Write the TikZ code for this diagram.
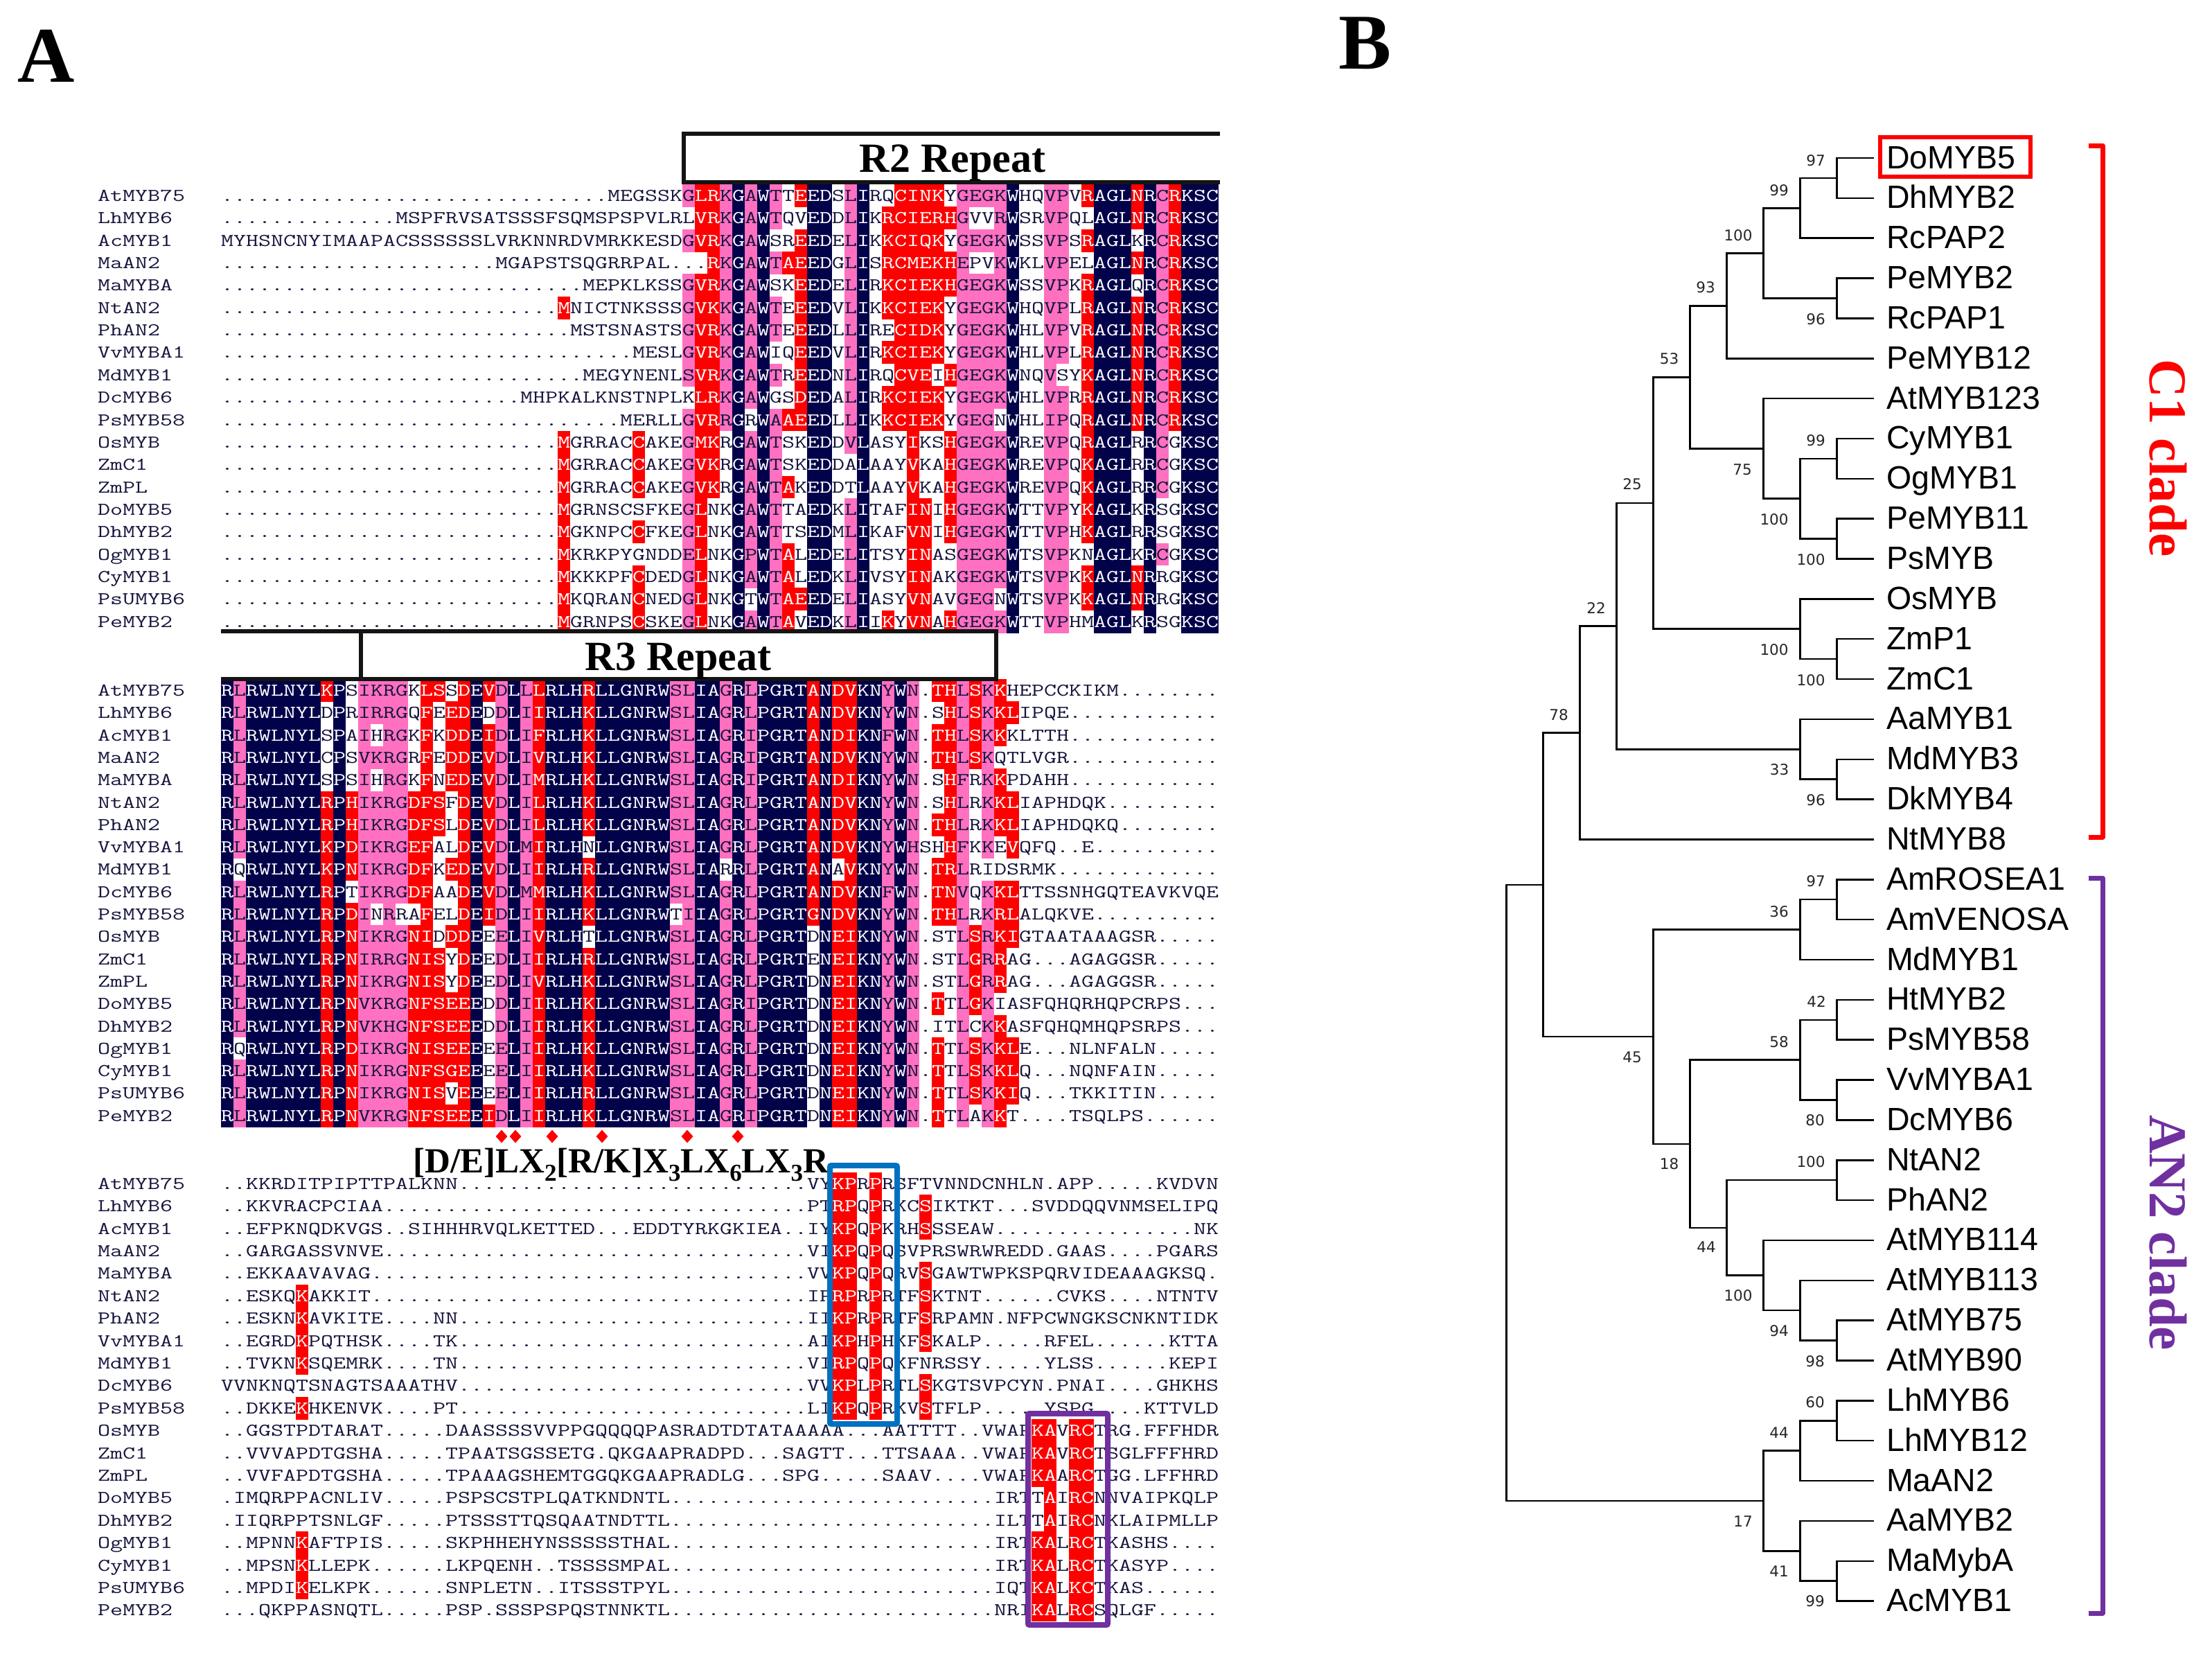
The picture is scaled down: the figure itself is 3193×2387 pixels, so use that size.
\documentclass[tikz,border=0pt]{standalone}
\usepackage{fontspec}
\setmainfont{Liberation Serif}
\setsansfont{Liberation Sans}
\newfontfamily\alnfont[FakeStretch=1.3443]{Latin Modern Mono}
\newfontfamily\bootfont{DejaVu Sans}
\usetikzlibrary{calc,shapes.geometric}
\definecolor{aln}{HTML}{02024A}
\definecolor{alr}{HTML}{FF0000}
\definecolor{alp}{HTML}{FF70C0}
\definecolor{altxt}{HTML}{14143C}
\definecolor{boxblue}{HTML}{0070C0}
\definecolor{boxpurple}{HTML}{7030A0}
\tikzset{
  alntext/.style={anchor=base west,inner sep=0pt,font=\alnfont\fontsize{26}{26}\selectfont,text=altxt},
  treeline/.style={line width=2.5pt,line cap=rect,black},
  leaf/.style={anchor=base west,inner sep=0pt,font=\sffamily\fontsize{46.5}{46.5}\selectfont,text=black},
  bootlab/.style={anchor=center,inner sep=0pt,font=\bootfont\fontsize{21.5}{21.5}\selectfont,text=black!85},
  repeatbox/.style={line width=6.5pt,black!92},
  repeatlab/.style={anchor=base,inner sep=0pt,font=\bfseries\fontsize{60}{60}\selectfont},
  motif/.style={diamond,fill=red,minimum width=17pt,minimum height=19pt,inner sep=0pt,aspect=0.9},
  cladelab/.style={anchor=base,rotate=-90,inner sep=0pt,font=\bfseries\fontsize{77}{77}\selectfont},
  panel/.style={anchor=base west,inner sep=0pt,font=\bfseries\fontsize{114}{114}\selectfont},
}
\newcount\alc \newcount\alst \newcount\alrowi
\def\alend{}
\def\alflush{\if\alprev w\else
  \fill[fill=al\alprev] (319+18*\the\alst,\altop) rectangle (319+18*\the\alc,\altop+\alblockdy+0.5);
  \fi}
\def\alscan#1{%
  \ifx#1\alend \alflush \else
    \if#1\alprev\else \alflush \def\alprev{#1}\alst=\alc \fi
    \advance\alc by 1
    \expandafter\alscan
  \fi}
\def\altx#1#2\relax#3#4\relax{%
  \ifx#1\alend\else
    \if#3w{\color{altxt}#1}\else\if#3p{\color{altxt}#1}\else{\color{white}#1}\fi\fi
    \altx#2\relax#4\relax
  \fi}
\newcommand\alblock[3]{\def\alblockid{#1}\def\alblocktop{#2}\def\alblockdy{#3}\alrowi=0 }
\newcommand\alnrow[3]{%
  \pgfmathsetmacro\altop{\alblocktop+\alblockdy*\the\alrowi}%
  \pgfmathsetmacro\albase{\altop+24.5}%
  \edef\almask{#3}\alc=0 \alst=0 \def\alprev{w}%
  \expandafter\alscan\almask\alend
  \edef\alcall{\noexpand\altx #2\noexpand\alend\relax #3\noexpand\alend\relax}%
  \node[alntext] (\alblockid n\the\alrowi) at (141,\albase) {#1};
  \node[alntext] (\alblockid s\the\alrowi) at (319,\albase) {\alcall};
  \advance\alrowi by 1 }
\def\Dx{..........}
\def\Wx{wwwwwwwwww}
\def\mpw{\Wx\Wx\Wx wwwwwww}
\def\mpm{\Wx\Wx wwwwwwwrww wwwwwww}
\def\mpc{\Wx\Wx wwwwwwwrww wwwrwww}
\def\qk{wwwwwwrwww}
\def\qs{rwrwwwrwww}
\def\qn{rwrwwwwwww}
\def\qbl#1#2{#1\Wx\Wx\Wx wwwwwwwwwr #2\Wx\Wx}
\def\qpu#1#2{#1\Wx\Wx\Wx\Wx\Wx #2\Wx}
\newcommand\leafn[3]{%
  \node[leaf] (L#1) at (2723,{228+57.85*#2+15}) {#3};
  \coordinate (t#1) at (2704,{228+57.85*#2});}
\newcommand\clade[4]{%
  \path let \p1=(#3),\p2=(#4) in coordinate (#1) at (#2pt,{0.5*(\y1+\y2)});
  \draw[treeline] (#3) -| (#1) (#4) -| (#1);}
\newcommand\boot[4]{\node[bootlab] (#1) at (#2,#3) {#4};}
\newcommand\subs[1]{\raisebox{-12pt}{\fontsize{35}{35}\selectfont #1}}
\begin{document}
\begin{tikzpicture}[x=1pt,y=-1pt]
\useasboundingbox (0,0) rectangle (3193,2387);
\fill[white] (0,0) rectangle (3193,2387);
\node[panel] (panelA) at (25,119) {A};
\node[panel] (panelB) at (1932,100) {B};

% ---------- block 1
\alblock{a}{266}{32.35}
\alnrow{AtMYB75}{\Dx\Dx\Dx.MEGSSK GLRKGAWTTE EDSLIRQCIN KYGEGKWHQV PVRAGLNRCR KSC}{\mpw prrpnpnpwr nnwpnwwrrr rwppppnwwp pwrnnnrnpr nnn}
\alnrow{LhMYB6}{\Dx....MSPFRVSATSSSFSQMSPSPVLR LVRKGAWTQV EDDLIKRCIE RHGVVRWSRV PQLAGLNRCR KSC}{\mpw wrrpnpnpww nnwpnwrrrr rrpwwpnwwp pwwnnnrnpr nnn}
\alnrow{AcMYB1}{MYHSNCNYIMAAPACSSSSSSLVRKNNRDVMRKKESD GVRKGAWSRE EDELIKKCIQ KYGEGKWSSV PSRAGLKRCR KSC}{\mpw prrpnpnwwr nnwpnwrrrr rwppppnwwp pwrnnnwnpr nnn}
\alnrow{MaAN2}{\Dx\Dx..MGAPSTSQGRRPAL. ..RKGAWTAE EDGLISRCME KHEPVKWKLV PELAGLNRCR KSC}{\mpw wwrpnpnprr nnwpnwrrrr rrpwwpnwwp pwwnnnrnpr nnn}
\alnrow{MaMYBA}{\Dx\Dx.........MEPKLKSS GVRKGAWSKE EDELIRKCIE KHGEGKWSSV PKRAGLQRCR KSC}{\mpw prrpnpnwwr nnwpnwrrrr rrppppnwwp pwrnnnwnpr nnn}
\alnrow{NtAN2}{\Dx\Dx.......MNICTNKSSS GVKKGAWTEE EDVLIKKCIE KYGEGKWHQV PLRAGLNRCR KSC}{\mpm prrpnpnpwr nnwpnwrrrr rwppppnwwp pwrnnnrnpr nnn}
\alnrow{PhAN2}{\Dx\Dx........MSTSNASTS GVRKGAWTEE EDLLIRECID KYGEGKWHLV PVRAGLNRCR KSC}{\mpw prrpnpnpwr nnwpnwwrrr rwppppnwwp pwrnnnrnpr nnn}
\alnrow{VvMYBA1}{\Dx\Dx\Dx...MESL GVRKGAWIQE EDVLIRKCIE KYGEGKWHLV PLRAGLNRCR KSC}{\mpw prrpnpnwwr nnwpnwrrrr rwppppnwwp pwrnnnrnpr nnn}
\alnrow{MdMYB1}{\Dx\Dx.........MEGYNENL SVRKGAWTRE EDNLIRQCVE IHGEGKWNQV SYKAGLNRCR KSC}{\mpw prrpnpnpwr nnwpnwwrrr wrppppnwwp wwrnnnrnpr nnn}
\alnrow{DcMYB6}{\Dx\Dx....MHPKALKNSTNPL KLRKGAWGSD EDALIRKCIE KYGEGKWHLV PRRAGLNRCR KSC}{\mpw wrrpnpnwwr nnwpnwrrrr rwppppnwwp pwrnnnrnpr nnn}
\alnrow{PsMYB58}{\Dx\Dx\Dx..MERLL GVRRGRWAAE EDLLIKKCIE KYGEGNWHLI PQRAGLNRCR KSC}{\mpw prrpnwnprr nnwpnwrrrr rwpppwnwwp pwrnnnrnpr nnn}
\alnrow{OsMYB}{\Dx\Dx.......MGRRACCAKE GMKRGAWTSK EDDVLASYIK SHGEGKWREV PQRAGLRRCG KSC}{\mpc prrwnpnpww nnwpnwwwrw wrppppnwwp pwrnnnwnpw nnn}
\alnrow{ZmC1}{\Dx\Dx.......MGRRACCAKE GVKRGAWTSK EDDALAAYVK AHGEGKWREV PQKAGLRRCG KSC}{\mpc prrwnpnpww nnwwnwwwrw wrppppnwwp pwrnnnwnpw nnn}
\alnrow{ZmPL}{\Dx\Dx.......MGRRACCAKE GVKRGAWTAK EDDTLAAYVK AHGEGKWREV PQKAGLRRCG KSC}{\mpc prrwnpnprw nnwwnwwwrw wrppppnwwp pwrnnnwnpw nnn}
\alnrow{DoMYB5}{\Dx\Dx.......MGRNSCSFKE GLNKGAWTTA EDKLITAFIN IHGEGKWTTV PYKAGLKRSG KSC}{\mpm prwwnpnpww nnwpnwwwrr wrppppnwwp pwrnnnwnww nnn}
\alnrow{DhMYB2}{\Dx\Dx.......MGKNPCCFKE GLNKGAWTTS EDMLIKAFVN IHGEGKWTTV PHKAGLRRSG KSC}{\mpc prwwnpnpww nnwpnwwwrr wrppppnwwp pwrnnnwnww nnn}
\alnrow{OgMYB1}{\Dx\Dx.......MKRKPYGNDD ELNKGPWTAL EDELITSYIN ASGEGKWTSV PKNAGLKRCG KSC}{\mpm prwwnpnprw nnwpnwwwrr wwppppnwwp pwwnnnwnpw nnn}
\alnrow{CyMYB1}{\Dx\Dx.......MKKKPFCDED GLNKGAWTAL EDKLIVSYIN AKGEGKWTSV PKKAGLNRRG KSC}{\mpc prwwnpnprw nnwpnwwwrr wwppppnwwp pwrnnnrnww nnn}
\alnrow{PsUMYB6}{\Dx\Dx.......MKQRANCNED GLNKGTWTAE EDELIASYVN AVGEGNWTSV PKKAGLNRRG KSC}{\mpc prwwnwnprr nnwpnwwwrr wwpppwnwwp pwrnnnrnww nnn}
\alnrow{PeMYB2}{\Dx\Dx.......MGRNPSCSKE GLNKGAWTAV EDKLIIKYVN AHGEGKWTTV PHMAGLKRSG KSC}{\mpc prwwnpnprw nnwpnwrwrr wrppppnwwp pwwnnnwnww nnn}

% ---------- block 2
\alblock{b}{980}{32.3}
\alnrow{AtMYB75}{RLRWLNYLKP SIKRGKLSSD EVDLLLRLHR LLGNRWSLIA GRLPGRTAND VKNYWN.THL SKKHEPCCKI KM........}{npnnnnnnrn wppppwrrwr nrpnprnnnr nnnnnnppnn pnpnnnnrnr rnnpnpwrrp rprwwwwwww \Wx}
\alnrow{LhMYB6}{RLRWLNYLDP RIRRGQFEED EDDLIIRLHK LLGNRWSLIA GRLPGRTAND VKNYWN.SHL SKKLIPQE.. \Dx}{npnnnnnnwn wppppwrwrr nwpnprnnnr nnnnnnppnn pnpnnnnrnr rnnpnpwwrp rprrwwwwww \Wx}
\alnrow{AcMYB1}{RLRWLNYLSP AIHRGKFKDD EIDLIFRLHK LLGNRWSLIA GRIPGRTAND IKNFWN.THL SKKKLTTH.. \Dx}{npnnnnnnwn wpwppwrwrr nrpnprnnnr nnnnnnppnn pnpnnnnrnr rnnpnpwrrp rprwwwwwww \Wx}
\alnrow{MaAN2}{RLRWLNYLCP SVKRGRFEDD EVDLIVRLHK LLGNRWSLIA GRIPGRTAND VKNYWN.THL SKQTLVGR.. \Dx}{npnnnnnnwn wppppwrwrr nrpnprnnnr nnnnnnppnn pnpnnnnrnr rnnpnpwrrp rpwwwwwwww \Wx}
\alnrow{MaMYBA}{RLRWLNYLSP SIHRGKFNED EVDLIMRLHK LLGNRWSLIA GRIPGRTAND IKNYWN.SHF RKKPDAHH.. \Dx}{npnnnnnnwn wpwppwrwrr nrpnprnnnr nnnnnnppnn pnpnnnnrnr rnnpnpwwrp wprwwwwwww \Wx}
\alnrow{NtAN2}{RLRWLNYLRP HIKRGDFSFD EVDLILRLHK LLGNRWSLIA GRLPGRTAND VKNYWN.SHL RKKLIAPHDQ K.........}{npnnnnnnrn rpppprrrwr nrpnprnnnr nnnnnnppnn pnpnnnnrnr rnnpnpwwrp wprrwwwwww \Wx}
\alnrow{PhAN2}{RLRWLNYLRP HIKRGDFSLD EVDLILRLHK LLGNRWSLIA GRLPGRTAND VKNYWN.THL RKKLIAPHDQ KQ........}{npnnnnnnrn rpppprrrwr nrpnprnnnr nnnnnnppnn pnpnnnnrnr rnnpnpwrrp wprrwwwwww \Wx}
\alnrow{VvMYBA1}{RLRWLNYLKP DIKRGEFALD EVDLMIRLHN LLGNRWSLIA GRLPGRTAND VKNYWHSHHF KKEVQFQ..E \Dx}{npnnnnnnrn rpppprrwwr nrpnprnnnw nnnnnnppnn pnpnnnnrnr rnnpnpwwrp wpwrwwwwww \Wx}
\alnrow{MdMYB1}{RQRWLNYLKP NIKRGDFKED EVDLIIRLHR LLGNRWSLIA RRLPGRTANA VKNYWN.TRL RIDSRMK... \Dx}{nwnnnnnnrn rpppprrwrr nrpnprnnnr nnnnnnppnn wnpnnnnrnw rnnpnpwrrp \Wx \Wx}
\alnrow{DcMYB6}{RLRWLNYLRP TIKRGDFAAD EVDLMMRLHK LLGNRWSLIA GRLPGRTAND VKNFWN.TNV QKKLTTSSNH GQTEAVKVQE}{npnnnnnnrn wpppprrwwr nrpnprnnnr nnnnnnppnn pnpnnnnrnr rnnpnpwrrp wprrwwwwww \Wx}
\alnrow{PsMYB58}{RLRWLNYLRP DINRRAFELD EIDLIIRLHK LLGNRWTIIA GRLPGRTGND VKNYWN.THL RKRLALQKVE \Dx}{npnnnnnnrn rpwpwwrwwr nrpnprnnnr nnnnnnwpnn pnpnnnnrnr rnnpnpwrrp wprrwwwwww \Wx}
\alnrow{OsMYB}{RLRWLNYLRP NIKRGNIDDD EEELIVRLHT LLGNRWSLIA GRLPGRTDNE IKNYWN.STL SRKIGTAATA AAGSR.....}{npnnnnnnrn rpppprrwrr nwpnprnnnw nnnnnnppnn pnpnnnnwnr rnnpnpwwwp rprrwwwwww \Wx}
\alnrow{ZmC1}{RLRWLNYLRP NIRRGNISYD EEDLIIRLHR LLGNRWSLIA GRLPGRTENE IKNYWN.STL GRRAG...AG AGGSR.....}{npnnnnnnrn rpppprrrwr nwpnprnnnr nnnnnnppnn pnpnnnnwnr rnnpnpwwwp rprwwwwwww \Wx}
\alnrow{ZmPL}{RLRWLNYLRP NIKRGNISYD EEDLIVRLHK LLGNRWSLIA GRLPGRTDNE IKNYWN.STL GRRAG...AG AGGSR.....}{npnnnnnnrn rpppprrrwr nwpnprnnnr nnnnnnppnn pnpnnnnwnr rnnpnpwwwp rprwwwwwww \Wx}
\alnrow{DoMYB5}{RLRWLNYLRP NVKRGNFSEE EDDLIIRLHK LLGNRWSLIA GRIPGRTDNE IKNYWN.TTL GKIASFQHQR HQPCRPS...}{npnnnnnnrn rpppprrrrr nwpnprnnnr nnnnnnppnn pnpnnnnwnr rnnpnpwrwp rpwwwwwwww \Wx}
\alnrow{DhMYB2}{RLRWLNYLRP NVKHGNFSEE EDDLIIRLHK LLGNRWSLIA GRLPGRTDNE IKNYWN.ITL CKKASFQHQM HQPSRPS...}{npnnnnnnrn rpppprrrrr nwpnprnnnr nnnnnnppnn pnpnnnnwnr rnnpnpwwwp wprwwwwwww \Wx}
\alnrow{OgMYB1}{RQRWLNYLRP DIKRGNISEE EEELIIRLHK LLGNRWSLIA GRLPGRTDNE IKNYWN.TTL SKKLE...NL NFALN.....}{nwnnnnnnrn rpppprrrrr nwpnprnnnr nnnnnnppnn pnpnnnnwnr rnnpnpwrwp rprrwwwwww \Wx}
\alnrow{CyMYB1}{RLRWLNYLRP NIKRGNFSGE EEELIIRLHK LLGNRWSLIA GRLPGRTDNE IKNYWN.TTL SKKLQ...NQ NFAIN.....}{npnnnnnnrn rpppprrrrr nwpnprnnnr nnnnnnppnn pnpnnnnwnr rnnpnpwrwp rprrwwwwww \Wx}
\alnrow{PsUMYB6}{RLRWLNYLRP NIKRGNISVE EEELIIRLHR LLGNRWSLIA GRLPGRTDNE IKNYWN.TTL SKKIQ...TK KITIN.....}{npnnnnnnrn rpppprrrwr nwpnprnnnr nnnnnnppnn pnpnnnnwnr rnnpnpwrwp rprrwwwwww \Wx}
\alnrow{PeMYB2}{RLRWLNYLRP NVKRGNFSEE EIDLIIRLHK LLGNRWSLIA GRIPGRTDNE IKNYWN.TTL AKKT....TS QLPS......}{npnnnnnnrn rpppprrrrr nrpnprnnnr nnnnnnppnn pnpnnnnwnr rnnpnpwrwp wprwwwwwww \Wx}

% ---------- block 3
\alblock{c}{1691.7}{32.4}
\alnrow{AtMYB75}{..KKRDITPIPTTPALKNN\Dx\Dx........VYKPRPRSFTVNNDCNHLN.APP.....KVDVN}{\qbl{\Wx}{\qn}}
\alnrow{LhMYB6}{..KKVRACPCIAA\Dx\Dx\Dx....PTRPQPRKCSIKTKT...SVDDQQVNMSELIPQ}{\qbl{\Wx}{\qs}}
\alnrow{AcMYB1}{..EFPKNQDKVGS..SIHHHRVQLKETTED...EDDTYRKGKIEA..IYKPQPKRHSSSEAW\Dx......NK}{\qbl{\Wx}{\qs}}
\alnrow{MaAN2}{..GARGASSVNVE\Dx\Dx\Dx....VIKPQPQSVPRSWRWREDD.GAAS....PGARS}{\qbl{\Wx}{\qn}}
\alnrow{MaMYBA}{..EKKAAVAVAG\Dx\Dx\Dx.....VVKPQPQRVSGAWTWPKSPQRVIDEAAAGKSQ.}{\qbl{\Wx}{\qs}}
\alnrow{NtAN2}{..ESKQKAKKIT\Dx\Dx\Dx.....IPRPRPRTFSKTNT......CVKS....NTNTV}{\qbl{\qk}{\qs}}
\alnrow{PhAN2}{..ESKNKAVKITE....NN\Dx\Dx........IIKPRPRTFSRPAMN.NFPCWNGKSCNKNTIDK}{\qbl{\qk}{\qs}}
\alnrow{VvMYBA1}{..EGRDKPQTHSK....TK\Dx\Dx........AIKPHPHKFSKALP.....RFEL......KTTA}{\qbl{\qk}{\qs}}
\alnrow{MdMYB1}{..TVKNKSQEMRK....TN\Dx\Dx........VIRPQPQKFNRSSY.....YLSS......KEPI}{\qbl{\qk}{\qn}}
\alnrow{DcMYB6}{VVNKNQTSNAGTSAAATHV\Dx\Dx........VVKPLPRTLSKGTSVPCYN.PNAI....GHKHS}{\qbl{\Wx}{\qs}}
\alnrow{PsMYB58}{..DKKEKHKENVK....PT\Dx\Dx........LIKPQPRKVSTFLP.....YSPG....KTTVLD}{\qbl{\qk}{\qs}}
\alnrow{OsMYB}{..GGSTPDTARAT.....DAASSSSVVPPGQQQQPASRADTDTATAAAAA...AATTTT..VWAPKAVRCTRG.FFFHDR}{\qpu{\Wx}{wwwwwrrwrr}}
\alnrow{ZmC1}{..VVVAPDTGSHA.....TPAATSGSSETG.QKGAAPRADPD...SAGTT...TTSAAA..VWAPKAVRCTSGLFFFHRD}{\qpu{\Wx}{wwwwwrrwrr}}
\alnrow{ZmPL}{..VVFAPDTGSHA.....TPAAAGSHEMTGGQKGAAPRADLG...SPG.....SAAV....VWAPKAARCTGG.LFFHRD}{\qpu{\Wx}{wwwwwrrwrr}}
\alnrow{DoMYB5}{.IMQRPPACNLIV.....PSPSCSTPLQATKNDNTL\Dx\Dx......IRTTAIRCNNVAIPKQLP}{\qpu{\Wx}{wwwwwwrwrr}}
\alnrow{DhMYB2}{.IIQRPPTSNLGF.....PTSSSTTQSQAATNDTTL\Dx\Dx......ILTTAIRCNKLAIPMLLP}{\qpu{\Wx}{wwwwwwrwrr}}
\alnrow{OgMYB1}{..MPNNKAFTPIS.....SKPHHEHYNSSSSSTHAL\Dx\Dx......IRTKALRCTKASHS....}{\qpu{\qk}{wwwwwrrwrr}}
\alnrow{CyMYB1}{..MPSNKLLEPK......LKPQENH..TSSSSMPAL\Dx\Dx......IRTKALRCTKASYP....}{\qpu{\qk}{wwwwwrrwrr}}
\alnrow{PsUMYB6}{..MPDIKELKPK......SNPLETN..ITSSSTPYL\Dx\Dx......IQTKALKCTKAS......}{\qpu{\qk}{wwwwwrrwrr}}
\alnrow{PeMYB2}{...QKPPASNQTL.....PSP.SSSPSPQSTNNKTL\Dx\Dx......NRIKALRCSQLGF.....}{\qpu{\Wx}{wwwwwrrwrr}}

% ---------- repeat boxes
\draw[repeatbox] (1761,193) -- (987,193) -- (987,263) -- (1761,263);
\node[repeatlab] (r2lab) at (1375,248.5) {R2 Repeat};
\draw[repeatbox] (319,911) -- (1438,911) -- (1438,980) -- (319,980);
\draw[repeatbox] (521,911) -- (521,980);
\node[repeatlab] (r3lab) at (979,967) {R3 Repeat};

% ---------- motif
\node[motif] (d1) at (724,1640) {};
\node[motif] (d2) at (744,1640) {};
\node[motif] (d3) at (797,1640) {};
\node[motif] (d4) at (869,1640) {};
\node[motif] (d5) at (992,1640) {};
\node[motif] (d6) at (1065,1640) {};
\node[anchor=base west,inner sep=0pt,font=\bfseries\fontsize{51}{51}\selectfont] (motiflab) at (596,1692.7)
  {[D/E]LX\subs{2}[R/K]X\subs{3}LX\subs{6}LX\subs{3}R};
\draw[line width=8pt,boxblue,rounded corners=2pt] (1198,1682) rectangle (1295,2055);
\draw[line width=8pt,boxpurple,rounded corners=2pt] (1484,2040) rectangle (1599,2345);

% ---------- tree leaves
\leafn{0}{0}{DoMYB5}\leafn{1}{1}{DhMYB2}\leafn{2}{2}{RcPAP2}\leafn{3}{3}{PeMYB2}\leafn{4}{4}{RcPAP1}
\leafn{5}{5}{PeMYB12}\leafn{6}{6}{AtMYB123}\leafn{7}{7}{CyMYB1}\leafn{8}{8}{OgMYB1}\leafn{9}{9}{PeMYB11}
\leafn{10}{10}{PsMYB}\leafn{11}{11}{OsMYB}\leafn{12}{12}{ZmP1}\leafn{13}{13}{ZmC1}\leafn{14}{14}{AaMYB1}
\leafn{15}{15}{MdMYB3}\leafn{16}{16}{DkMYB4}\leafn{17}{17}{NtMYB8}\leafn{18}{18}{AmROSEA1}\leafn{19}{19}{AmVENOSA}
\leafn{20}{20}{MdMYB1}\leafn{21}{21}{HtMYB2}\leafn{22}{22}{PsMYB58}\leafn{23}{23}{VvMYBA1}\leafn{24}{24}{DcMYB6}
\leafn{25}{25}{NtAN2}\leafn{26}{26}{PhAN2}\leafn{27}{27}{AtMYB114}\leafn{28}{28}{AtMYB113}\leafn{29}{29}{AtMYB75}
\leafn{30}{30}{AtMYB90}\leafn{31}{31}{LhMYB6}\leafn{32}{32}{LhMYB12}\leafn{33}{33}{MaAN2}\leafn{34}{34}{AaMYB2}
\leafn{35}{35}{MaMybA}\leafn{36}{36}{AcMYB1}

% ---------- tree clades
\clade{n1}{2651.7}{t0}{t1}
\clade{n2}{2598.7}{n1}{t2}
\clade{n3}{2651.7}{t3}{t4}
\clade{n4}{2545.7}{n2}{n3}
\clade{n5}{2492.7}{n4}{t5}
\clade{n6}{2651.7}{t7}{t8}
\clade{n7}{2651.7}{t9}{t10}
\clade{n8}{2598.7}{n6}{n7}
\clade{n9}{2545.7}{t6}{n8}
\clade{n10}{2439.7}{n5}{n9}
\clade{n11}{2651.7}{t12}{t13}
\clade{n12}{2598.7}{t11}{n11}
\clade{n13}{2386.6}{n10}{n12}
\clade{n14}{2651.7}{t15}{t16}
\clade{n15}{2598.7}{t14}{n14}
\clade{n16}{2333.6}{n13}{n15}
\clade{n17}{2280.6}{n16}{t17}
\clade{a1}{2651.7}{t18}{t19}
\clade{a2}{2598.7}{a1}{t20}
\clade{a3}{2651.7}{t21}{t22}
\clade{a4}{2651.7}{t23}{t24}
\clade{a5}{2598.7}{a3}{a4}
\clade{a6}{2651.7}{t25}{t26}
\clade{a7}{2651.7}{t29}{t30}
\clade{a8}{2598.7}{t28}{a7}
\clade{a9}{2545.7}{t27}{a8}
\clade{a10}{2492.7}{a6}{a9}
\clade{a11}{2439.7}{a5}{a10}
\clade{a12}{2386.6}{a2}{a11}
\clade{rootb}{2227.6}{n17}{a12}
\clade{b1}{2651.7}{t31}{t32}
\clade{b2}{2598.7}{b1}{t33}
\clade{b3}{2651.7}{t35}{t36}
\clade{b4}{2598.7}{t34}{b3}
\clade{b5}{2545.7}{b2}{b4}
\clade{roota}{2174.6}{rootb}{b5}

% ---------- bootstrap values
\boot{v1}{2621}{232}{97}\boot{v2}{2568}{275}{99}\boot{v3}{2509}{340}{100}\boot{v4}{2621}{461}{96}
\boot{v5}{2462}{415}{93}\boot{v6}{2409.5}{518}{53}\boot{v7}{2621}{636}{99}\boot{v8}{2515}{678}{75}
\boot{v9}{2561}{750}{100}\boot{v10}{2614}{808}{100}\boot{v11}{2356}{699}{25}\boot{v12}{2561}{938}{100}
\boot{v13}{2614}{982}{100}\boot{v14}{2304}{878}{22}\boot{v15}{2568.5}{1111}{33}\boot{v16}{2621}{1155}{96}
\boot{v17}{2250}{1032}{78}
\boot{w1}{2621}{1272}{97}\boot{w2}{2568}{1316}{36}\boot{w3}{2622}{1446}{42}\boot{w4}{2568}{1504}{58}
\boot{w5}{2620}{1617}{80}\boot{w6}{2614}{1677}{100}\boot{w7}{2356}{1525.5}{45}\boot{w8}{2409.5}{1680}{18}
\boot{w9}{2463}{1800}{44}\boot{w10}{2509}{1870}{100}\boot{w11}{2568}{1921}{94}\boot{w12}{2620}{1965}{98}
\boot{w13}{2620}{2024}{60}\boot{w14}{2568}{2067.5}{44}\boot{w15}{2516}{2196}{17}\boot{w16}{2568}{2268}{41}
\boot{w17}{2620}{2311}{99}

% ---------- highlight and clade brackets
\draw[line width=6pt,red] (2713.5,198) rectangle (2930.5,254.5);
\draw[line width=7pt,red,line join=round] (3015,210) -- (3035,210) -- (3035,1208) -- (3015,1208);
\draw[line width=7pt,boxpurple,line join=round] (3015,1267) -- (3035,1267) -- (3035,2328) -- (3015,2328);
\node[cladelab,text=red] (c1lab) at (3103,661) {C1 clade};
\node[cladelab,text=boxpurple] (an2lab) at (3103,1779) {AN2 clade};
\end{tikzpicture}
\end{document}
